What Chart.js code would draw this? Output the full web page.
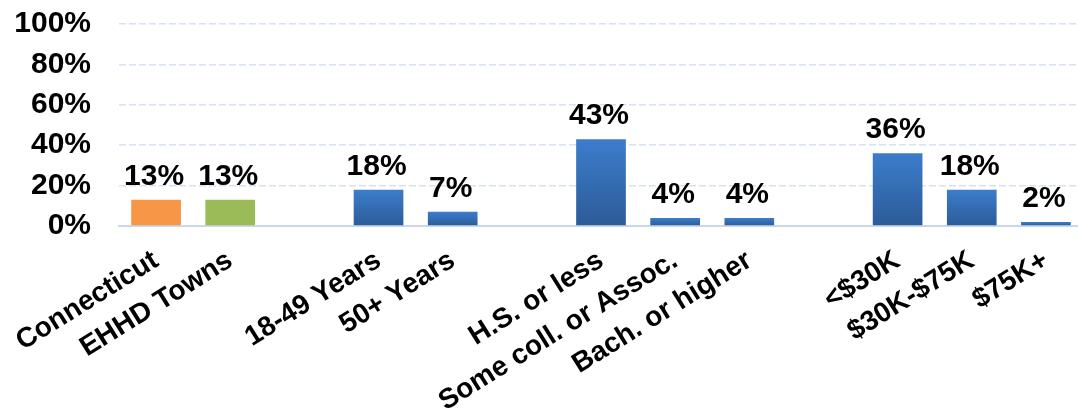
<!DOCTYPE html>
<html>
<head>
<meta charset="utf-8">
<script src="https://cdn.jsdelivr.net/npm/chart.js@4.4.1/dist/chart.umd.min.js"></script>
<style>
  html, body { margin: 0; padding: 0; background: #fff; overflow: hidden; }
  #wrap { width: 1083px; height: 409px; position: relative; }
</style>
</head>
<body>
<div id="wrap"><canvas id="chart"></canvas></div>
<script>
// categories ('' = gap between groups)
const categories = ['Connecticut', 'EHHD Towns', '', '18-49 Years', '50+ Years', '',
  'H.S. or less', 'Some coll. or Assoc.', 'Bach. or higher', '',
  '<$30K', '$30K-$75K', '$75K+'];
const percents = [13, 13, null, 18, 7, null, 43, 4, 4, null, 36, 18, 2];
const yTicks = [0, 20, 40, 60, 80, 100];

const ORANGE = '#F79646';
const GREEN = '#9BBB59';

function barFill(context) {
  const i = context.dataIndex;
  if (i === 0) return ORANGE;
  if (i === 1) return GREEN;
  const chart = context.chart;
  const v = context.raw;
  if (!chart.chartArea || v == null) return '#3A78C4';
  const y = chart.scales.y;
  const top = y.getPixelForValue(v);
  const base = y.getPixelForValue(0);
  const g = chart.ctx.createLinearGradient(0, top, 0, base);
  g.addColorStop(0, '#3C7DCC');
  g.addColorStop(1, '#2C5B97');
  return g;
}

// value labels above the bars
const valueLabels = {
  id: 'valueLabels',
  afterDatasetsDraw(chart) {
    const ctx = chart.ctx;
    const meta = chart.getDatasetMeta(0);
    ctx.save();
    ctx.font = 'bold 30px "Liberation Sans", Arial, sans-serif';
    ctx.fillStyle = '#000';
    ctx.textAlign = 'center';
    ctx.textBaseline = 'alphabetic';
    meta.data.forEach((bar, i) => {
      const v = percents[i];
      if (v == null) return;
      ctx.fillText(v + '%', bar.x - 2, bar.y - 15);
    });
    ctx.restore();
  }
};

new Chart(document.getElementById('chart'), {
  type: 'bar',
  data: {
    labels: categories,
    datasets: [{
      data: percents,
      backgroundColor: barFill,
      categoryPercentage: 1,
      barPercentage: 0.67
    }]
  },
  options: {
    responsive: true,
    maintainAspectRatio: false,
    animation: false,
    layout: { padding: { top: 24, right: 0, left: 0, bottom: 0 } },
    plugins: {
      legend: { display: false },
      tooltip: { enabled: false }
    },
    scales: {
      x: {
        grid: { display: false },
        border: { display: true, color: '#C8D7EC', width: 2 },
        afterFit(scale) {
          scale.height = 183;
          scale.paddingLeft = 0;
          scale.paddingRight = 0;
          scale.paddingTop = 0;
        },
        ticks: {
          autoSkip: false,
          minRotation: 32,
          maxRotation: 32,
          padding: 10,
          color: '#000',
          font: { family: '"Liberation Sans", Arial, sans-serif', size: 28, weight: 'bold' }
        }
      },
      y: {
        min: 0,
        max: 100,
        afterFit(scale) {
          scale.width = 119;
          scale.paddingTop = 0;
          scale.paddingBottom = 0;
        },
        afterBuildTicks(scale) { scale.ticks = yTicks.map(v => ({ value: v })); },
        border: { display: false, dash: [7, 3] },
        grid: {
          color: ctx => ctx.tick && ctx.tick.value === 0 ? 'rgba(0,0,0,0)' : '#D6E2F2',
          lineWidth: 1.5,
          drawTicks: false
        },
        ticks: {
          autoSkip: false,
          padding: 28,
          color: '#000',
          font: { family: '"Liberation Sans", Arial, sans-serif', size: 30, weight: 'bold' },
          callback: v => v + '%'
        }
      }
    }
  },
  plugins: [valueLabels]
});
</script>
</body>
</html>
